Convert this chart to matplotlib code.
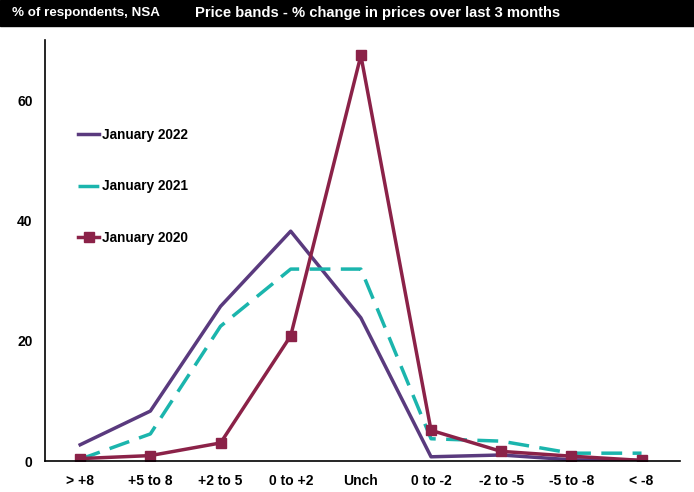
import matplotlib.pyplot as plt
from matplotlib.patches import Rectangle

categories = ["> +8", "+5 to 8", "+2 to 5", "0 to +2", "Unch", "0 to -2", "-2 to -5", "-5 to -8", "< -8"]
jan_2022 = [2.7, 8.3, 25.7, 38.2, 23.8, 0.7, 1.0, 0.2, 0.1]
jan_2021 = [0.3, 4.5, 22.4, 31.9, 31.9, 3.7, 3.3, 1.3, 1.3]
jan_2020 = [0.4, 0.9, 3.0, 20.8, 67.4, 5.1, 1.6, 0.8, 0.1]

plt.rcParams['font.family'] = ['Liberation Sans Narrow', 'Liberation Sans', 'DejaVu Sans']
plt.rcParams['font.weight'] = 'bold'

fig = plt.figure(figsize=(6.94, 4.92), dpi=100)
ax = fig.add_axes([0.065, 0.063, 0.915, 0.856])

x = range(len(categories))
ax.plot(x, jan_2022, color='#5a3a7e', lw=2.5, label='January 2022')
ax.plot(x, jan_2021, color='#1bb5ad', lw=2.5, dashes=(6, 3), label='January 2021')
ax.plot(x, jan_2020, color='#8b2248', lw=2.5, marker='s', ms=7, label='January 2020')

ax.set_xlim(-0.5, 8.55)
ax.set_ylim(0, 70)
ax.set_yticks([0, 20, 40, 60])
ax.set_xticks(list(x))
ax.set_xticklabels(categories)
ax.tick_params(length=0, labelsize=10, pad=9)
ax.tick_params(axis='y', pad=9)
for s in ['top', 'right']:
    ax.spines[s].set_visible(False)
ax.spines['left'].set_linewidth(1.2)
ax.spines['bottom'].set_linewidth(1.2)

ax.legend(loc='upper left', bbox_to_anchor=(0.032, 0.82), frameon=False,
          handlelength=1.6, handletextpad=0.2, labelspacing=2.75, fontsize=9.8)

# header bar
fig.patches.append(Rectangle((0, 0.948), 1, 0.052, transform=fig.transFigure,
                             color='black', zorder=0))
fig.text(0.017, 0.974, '% of respondents, NSA', color='white', fontsize=9.6,
         va='center', ha='left')
fig.text(0.281, 0.974, 'Price bands - % change in prices over last 3 months', color='white',
         fontsize=10.6, va='center', ha='left')

fig.savefig('out.png', dpi=100)
